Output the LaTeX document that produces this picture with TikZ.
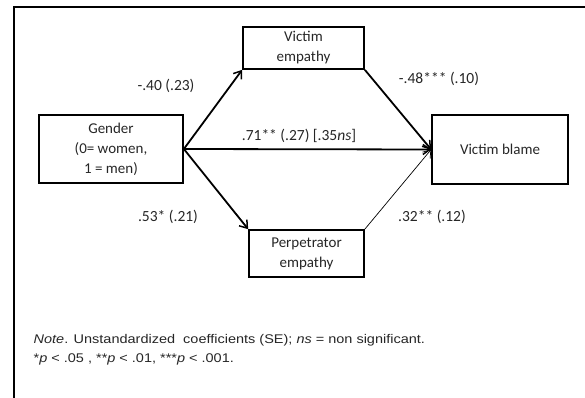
\documentclass[tikz,border=0pt]{standalone}
\usepackage{fontspec}
\setmainfont{Carlito}
\newfontfamily\notefont[FakeStretch=1.15]{Liberation Sans}
\usetikzlibrary{arrows.meta}
\tikzset{
  box/.style={draw, line width=1.7pt, inner sep=0pt, align=center, font=\fontsize{15}{20}\selectfont, text=black!85},
  lbl/.style={font=\fontsize{15.5}{18}\selectfont, inner sep=0pt, text=black!85},
  path/.style={line width=1.8pt, -{Straight Barb[length=7pt,width=10pt,line width=1.5pt]}},
  thinpath/.style={line width=0.7pt, -{Straight Barb[length=7pt,width=10pt,line width=0.7pt]}},
  notetext/.style={font=\notefont\fontsize{12.6}{15}\selectfont, anchor=base west, inner sep=0pt, text=black!85}
}
\begin{document}
\begin{tikzpicture}[x=1pt,y=-1pt]
\useasboundingbox (0,0) rectangle (585,398);
\draw[line width=2pt] (14,398) -- (14,7) -- (585,7);
\node[box, minimum width=121pt, minimum height=42pt] (ve) at (303.5,48) {Victim\\empathy};
\node[box, minimum width=144pt, minimum height=68pt] (g) at (111,149) {Gender\\(0= women,\\1 = men)};
\node[box, minimum width=136pt, minimum height=69pt] (vb) at (500,149.5) {Victim blame};
\node[box, minimum width=115pt, minimum height=47pt] (pe) at (306.5,253.5) {Perpetrator\\empathy};
\draw[path] (g.east) -- (ve.south west);
\draw[path] (g.east) -- (pe.north west);
\draw[path] (g.east) -- (vb.west);
\draw[path] (ve.south east) -- (vb.west);
\draw[thinpath] (pe.north east) -- (vb.west);
\node[lbl] (l1) at (166,86) {-.40 (.23)};
\node[lbl] (l2) at (439,79) {-.48*** (.10)};
\node[lbl] (l3) at (299,136) {.71** (.27) [.35\textit{ns}]};
\node[lbl] (l4) at (168,217) {.53* (.21)};
\node[lbl] (l5) at (432,217) {.32** (.12)};
\node[notetext] (n1) at (33.5,343) {\textit{Note}. Unstandardized\ \ coefficients (SE); \textit{ns} = non significant.};
\node[notetext] (n2) at (33.5,362) {*\textit{p} < .05 , **\textit{p} < .01, ***\textit{p} < .001.};
\end{tikzpicture}
\end{document}
